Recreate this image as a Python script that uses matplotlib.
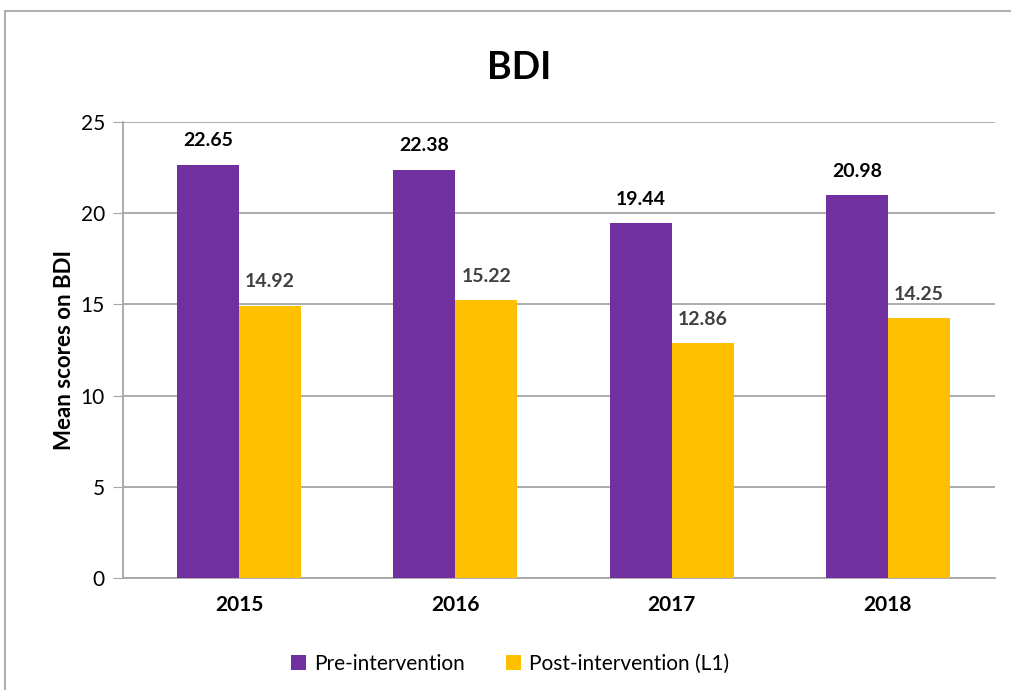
import matplotlib.pyplot as plt
import numpy as np
from matplotlib.patches import Rectangle

years = ['2015', '2016', '2017', '2018']
pre = [22.65, 22.38, 19.44, 20.98]
post = [14.92, 15.22, 12.86, 14.25]
yticks = [0, 5, 10, 15, 20, 25]

plt.rcParams['font.family'] = ['Lato', 'DejaVu Sans']

fig = plt.figure(figsize=(10.11, 6.9), dpi=100)
ax = fig.add_axes([123/1011, 0.1623, 872/1011, 0.6609])

x = np.arange(len(years))
w = 0.2866
b1 = ax.bar(x - w/2, pre, w, color='#7030A0', label='Pre-intervention', zorder=3)
b2 = ax.bar(x + w/2, post, w, color='#FFC000', label='Post-intervention (L1)', zorder=3)

for r, v in zip(b1, pre):
    ax.text(r.get_x() + r.get_width()/2, v + 0.85, f'{v:.2f}', ha='center', va='bottom',
            fontsize=14, fontweight='bold', color='black')
for r, v in zip(b2, post):
    ax.text(r.get_x() + r.get_width()/2, v + 0.85, f'{v:.2f}', ha='center', va='bottom',
            fontsize=14, fontweight='bold', color='#404040')

ax.set_xlim(-0.537, 3.495)
ax.set_ylim(0, 25)
ax.set_yticks(yticks)
ax.set_xticks(x)
ax.set_xticklabels(years, fontweight='bold', fontsize=15)
ax.tick_params(axis='x', length=0, pad=12)
ax.tick_params(axis='y', length=7, color='#a6a6a6', labelsize=15, pad=6)
ax.yaxis.grid(True, color='#a6a6a6', linewidth=1.3, zorder=0)
for s in ['top', 'right']:
    ax.spines[s].set_visible(False)
for s in ['left', 'bottom']:
    ax.spines[s].set_color('#a6a6a6')
    ax.spines[s].set_linewidth(1.3)
ax.set_ylabel('Mean scores on BDI', fontsize=16, fontweight='bold', labelpad=4)

fig.text(0.513, 0.902, 'BDI', ha='center', va='center', fontsize=27, fontweight='bold')

ax.legend(loc='upper center', bbox_to_anchor=(0.444, -0.125), ncol=2, frameon=False,
          fontsize=15, handlelength=0.7, handleheight=0.7, columnspacing=2.0, handletextpad=0.4)

fig.patches.append(Rectangle((5/1011, -0.1), 1.2, 1.1 - 11/690, transform=fig.transFigure,
                             fill=False, edgecolor='#b0b0b0', linewidth=1.5))

fig.savefig('out.png', dpi=100)
